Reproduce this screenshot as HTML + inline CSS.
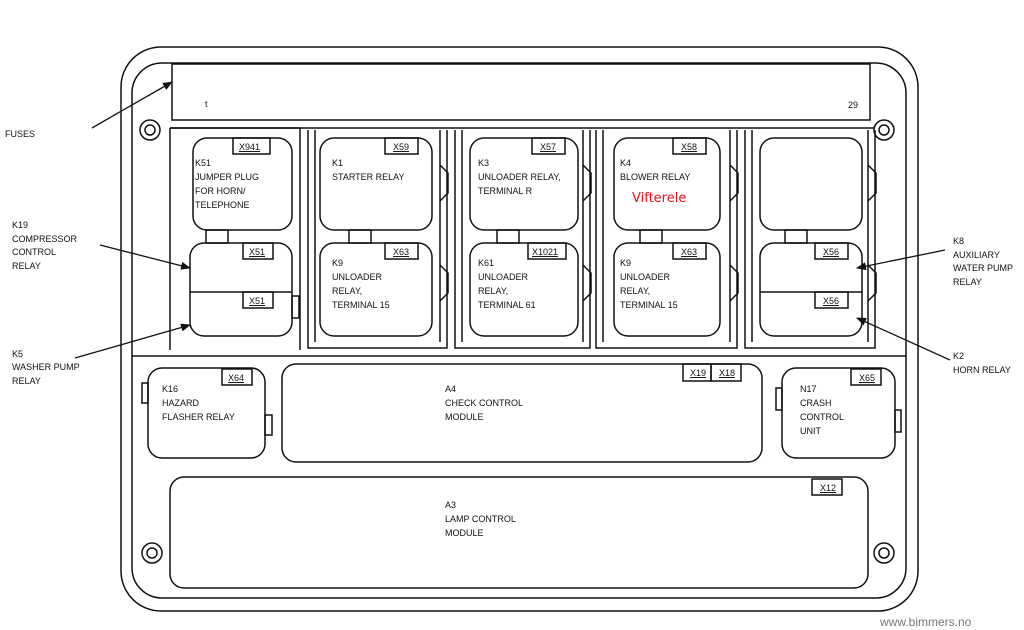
<!DOCTYPE html>
<html><head><meta charset="utf-8"><style>
body{margin:0;background:#fff}
svg{display:block}
text{font-family:"Liberation Sans",sans-serif;font-size:9px;fill:#111}
.t{font-size:8.5px}
</style></head><body>
<svg width="1024" height="630" viewBox="0 0 1024 630" xmlns="http://www.w3.org/2000/svg">
<defs><marker id="a" markerWidth="10" markerHeight="8" refX="9" refY="4" orient="auto" markerUnits="userSpaceOnUse"><path d="M0,0 L10,4 L0,8z" fill="#111"/></marker></defs>
<g fill="none" stroke="#111" stroke-width="1.5">
<rect x="121" y="47" width="797" height="564" rx="40"/>
<rect x="132" y="63" width="774" height="535" rx="30"/>
<rect x="172" y="64" width="698" height="56"/>
<circle cx="150" cy="130" r="10"/><circle cx="150" cy="130" r="5"/>
<circle cx="884" cy="130" r="10"/><circle cx="884" cy="130" r="5"/>
<circle cx="152" cy="553" r="10"/><circle cx="152" cy="553" r="5"/>
<circle cx="884" cy="553" r="10"/><circle cx="884" cy="553" r="5"/>
<path d="M132,356 H906"/>
<path d="M170,128 H300 V350 M170,128 V350"/>
<path d="M308,130 V348 H447 V130 M315,130 V342 M440,130 V342"/>
<path d="M455,130 V348 H590 V130 M462,130 V342 M583,130 V342"/>
<path d="M596,130 V348 H737 V130 M603,130 V342 M730,130 V342"/>
<path d="M745,130 V348 H875 V130 M752,130 V342 M868,130 V342"/>
<path d="M170,128 H875"/>
<rect x="193" y="138" width="99" height="92" rx="14"/>
<rect x="190" y="243" width="102" height="93" rx="14"/><path d="M190,292 H292"/>
<rect x="292" y="296" width="7" height="22"/>
<rect x="320" y="138" width="112" height="92" rx="14"/>
<rect x="320" y="243" width="112" height="93" rx="14"/>
<rect x="470" y="138" width="108" height="92" rx="14"/>
<rect x="470" y="243" width="108" height="93" rx="14"/>
<rect x="614" y="138" width="106" height="92" rx="14"/>
<rect x="614" y="243" width="106" height="93" rx="14"/>
<rect x="760" y="138" width="102" height="92" rx="14"/>
<rect x="760" y="243" width="102" height="93" rx="14"/><path d="M760,292 H862"/>
<path d="M440,165 l8,8 v20 l-8,8 M440,265 l8,8 v20 l-8,8 M583,165 l8,8 v20 l-8,8 M583,265 l8,8 v20 l-8,8 M730,165 l8,8 v20 l-8,8 M730,265 l8,8 v20 l-8,8 M868,165 l8,8 v20 l-8,8 M868,265 l8,8 v20 l-8,8"/>
<rect x="206" y="230" width="22" height="13"/><rect x="349" y="230" width="22" height="13"/><rect x="497" y="230" width="22" height="13"/><rect x="640" y="230" width="22" height="13"/><rect x="785" y="230" width="22" height="13"/>
<rect x="233" y="138" width="37" height="16"/><rect x="385" y="138" width="33" height="16"/><rect x="532" y="138" width="33" height="16"/><rect x="673" y="138" width="33" height="16"/>
<rect x="243" y="243" width="30" height="16"/><rect x="243" y="292" width="30" height="16"/>
<rect x="385" y="243" width="33" height="16"/><rect x="528" y="243" width="38" height="16"/><rect x="673" y="243" width="33" height="16"/>
<rect x="815" y="243" width="33" height="16"/><rect x="815" y="292" width="33" height="16"/>
<rect x="148" y="368" width="117" height="90" rx="14"/>
<rect x="142" y="383" width="6" height="20"/><rect x="265" y="415" width="7" height="20"/>
<rect x="222" y="369" width="30" height="16"/>
<rect x="282" y="364" width="480" height="98" rx="14"/>
<rect x="683" y="364" width="28" height="17"/><rect x="711" y="364" width="30" height="17"/>
<rect x="782" y="368" width="113" height="90" rx="14"/>
<rect x="776" y="388" width="6" height="22"/><rect x="895" y="410" width="6" height="22"/>
<rect x="851" y="369" width="30" height="16"/>
<rect x="170" y="477" width="698" height="111" rx="14"/>
<rect x="812" y="479" width="30" height="16"/>
</g>
<g stroke="#111" stroke-width="1.3" marker-end="url(#a)">
<line x1="92" y1="128" x2="172" y2="82"/>
<line x1="100" y1="245" x2="190" y2="268"/>
<line x1="75" y1="358" x2="190" y2="325"/>
<line x1="945" y1="250" x2="857" y2="268"/>
<line x1="950" y1="360" x2="857" y2="318"/>
</g>
<text x="205" y="107">t</text><text x="848" y="108">29</text>
<text x="5" y="137">FUSES</text>
<text x="12" y="228">K19</text><text x="12" y="242">COMPRESSOR</text><text x="12" y="255">CONTROL</text><text x="12" y="269">RELAY</text>
<text x="12" y="357">K5</text><text x="12" y="370">WASHER PUMP</text><text x="12" y="384">RELAY</text>
<text x="953" y="244">K8</text><text x="953" y="258">AUXILIARY</text><text x="953" y="271">WATER PUMP</text><text x="953" y="285">RELAY</text>
<text x="953" y="359">K2</text>
<text x="953" y="373">HORN RELAY</text>
<text x="195" y="166">K51</text><text x="195" y="180">JUMPER PLUG</text><text x="195" y="194">FOR HORN/</text><text x="195" y="208">TELEPHONE</text>
<text x="332" y="166">K1</text><text x="332" y="180">STARTER RELAY</text>
<text x="332" y="266">K9</text><text x="332" y="280">UNLOADER</text><text x="332" y="294">RELAY,</text><text x="332" y="308">TERMINAL 15</text>
<text x="478" y="166">K3</text><text x="478" y="180">UNLOADER RELAY,</text><text x="478" y="194">TERMINAL R</text>
<text x="478" y="266">K61</text><text x="478" y="280">UNLOADER</text><text x="478" y="294">RELAY,</text><text x="478" y="308">TERMINAL 61</text>
<text x="620" y="166">K4</text><text x="620" y="180">BLOWER RELAY</text>
<text x="632" y="202" style="fill:#e8141c;font-size:13px;font-family:'DejaVu Sans',sans-serif">Vifterele</text>
<text x="620" y="266">K9</text><text x="620" y="280">UNLOADER</text><text x="620" y="294">RELAY,</text><text x="620" y="308">TERMINAL 15</text>
<g class="t" text-decoration="underline">
<text x="239" y="150">X941</text><text x="393" y="150">X59</text><text x="540" y="150">X57</text><text x="681" y="150">X58</text>
<text x="249" y="255">X51</text><text x="249" y="304">X51</text><text x="393" y="255">X63</text><text x="532" y="255">X1021</text><text x="681" y="255">X63</text>
<text x="823" y="255">X56</text><text x="823" y="304">X56</text>
<text x="228" y="381">X64</text><text x="690" y="376">X19</text><text x="719" y="376">X18</text><text x="859" y="381">X65</text><text x="820" y="491">X12</text>
</g>
<text x="162" y="392">K16</text><text x="162" y="406">HAZARD</text><text x="162" y="420">FLASHER RELAY</text>
<text x="445" y="392">A4</text><text x="445" y="406">CHECK CONTROL</text><text x="445" y="420">MODULE</text>
<text x="800" y="392">N17</text><text x="800" y="406">CRASH</text><text x="800" y="420">CONTROL</text><text x="800" y="434">UNIT</text>
<text x="445" y="508">A3</text><text x="445" y="522">LAMP CONTROL</text><text x="445" y="536">MODULE</text>
<text x="880" y="626" style="font-size:12px;fill:#777">www.bimmers.no</text>
</svg>
</body></html>
